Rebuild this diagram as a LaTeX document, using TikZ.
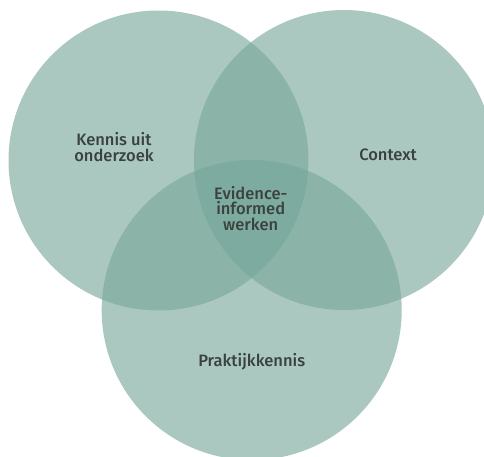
\documentclass[tikz,border=0pt]{standalone}
\usepackage{fontspec}
\setmainfont{Fira Sans}[BoldFont={Fira Sans Medium}]
\usetikzlibrary{positioning}
\definecolor{vennGreen}{RGB}{119,166,153}
\definecolor{labelGrey}{RGB}{58,66,63}

\begin{document}
\begin{tikzpicture}[x=1pt, y=1pt,
    venn/.style={circle, fill=vennGreen, fill opacity=0.62, minimum size=300pt, inner sep=0pt},
    lbl/.style={align=center, text=labelGrey, font=\fontsize{16.5}{15.7}\selectfont\bfseries}]
    \useasboundingbox (0,0) rectangle (484,456);
    \clip (0,0) rectangle (484,456);
    % drie cirkels
    \node[venn] (onderzoek) at (158.5,295.5) {};
    \node[venn] (context) at (344,296) {};
    \node[venn] (praktijk) at (251.7,146) {};
    % labels
    \node[lbl] (lOnderzoek) at (114,309) {Kennis uit\\onderzoek};
    \node[lbl] (lContext) at (388,301) {Context};
    \node[lbl] (lCentrum) at (250.7,247.5) {Evidence-\\informed\\werken};
    \node[lbl] (lPraktijk) at (251.7,94.5) {Praktijkkennis};
\end{tikzpicture}
\end{document}
